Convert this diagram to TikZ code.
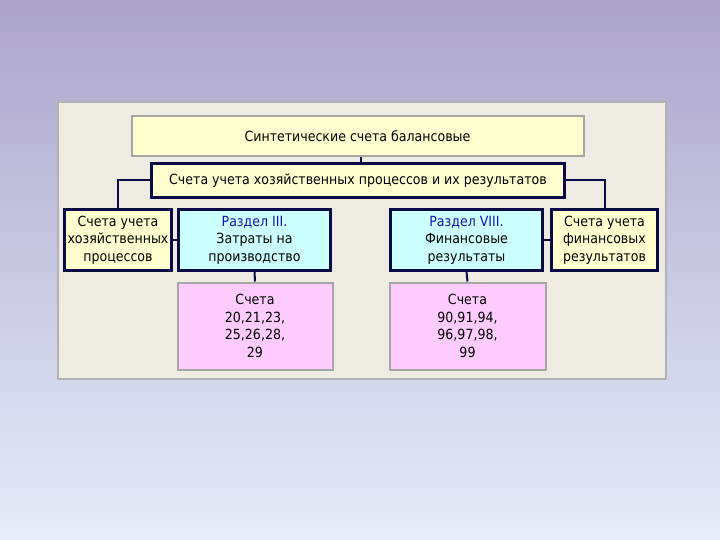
\documentclass[tikz,border=0pt]{standalone}
\usepackage{fontspec}
\setmainfont{DejaVu Sans Condensed}
\begin{document}
\begin{tikzpicture}[x=1pt,y=-1pt,
  txt/.style={align=center,inner sep=0pt,font=\fontsize{14}{17.5}\selectfont},
  yel/.style={txt,draw=navy,line width=2.2pt,fill=lyellow},
  cyanbox/.style={txt,draw=navy,line width=2.2pt,fill=lcyan},
  pinkbox/.style={txt,draw=gray!70,line width=2pt,fill=lpink},
  conn/.style={draw=navy,line width=2pt}]
\definecolor{navy}{RGB}{10,10,70}
\definecolor{lyellow}{RGB}{255,255,208}
\definecolor{lcyan}{RGB}{204,255,255}
\definecolor{lpink}{RGB}{255,204,255}
\definecolor{panel}{RGB}{237,235,226}
\definecolor{bgtop}{RGB}{172,164,202}
\definecolor{bgbot}{RGB}{230,236,250}
\definecolor{titleblue}{RGB}{20,20,170}
\useasboundingbox (0,0) rectangle (720,540);
\shade[top color=bgtop,bottom color=bgbot] (0,0) rectangle (720,540);
\draw[draw=gray!60,line width=2pt,fill=panel] (58,102) rectangle (666,379);
% top box
\node[txt,draw=gray!70,line width=2pt,fill=lyellow,minimum width=452pt,minimum height=40pt] (top) at (357.5,136.5) {Синтетические счета балансовые};
\node[yel,minimum width=413pt,minimum height=34pt] (mid) at (358,180.5) {Счета учета хозяйственных процессов и их результатов};
\node[yel,minimum width=107pt,minimum height=61pt] (lb) at (118,240) {Счета учета\\хозяйственных\\процессов};
\node[cyanbox,minimum width=152pt,minimum height=61pt] (c3) at (254.5,240) {{\color{titleblue}Раздел III.}\\Затраты на\\производство};
\node[cyanbox,minimum width=152pt,minimum height=61pt] (c8) at (466.5,240) {{\color{titleblue}Раздел VIII.}\\Финансовые\\результаты};
\node[yel,minimum width=106pt,minimum height=61pt] (rb) at (604.5,240) {Счета учета\\финансовых\\результатов};
\node[pinkbox,minimum width=155pt,minimum height=87pt] (p3) at (255,326) {Счета\\20,21,23,\\25,26,28,\\29};
\node[pinkbox,minimum width=156pt,minimum height=87pt] (p8) at (467.5,326) {Счета\\90,91,94,\\96,97,98,\\99};
% connectors
\draw[conn] (top.south -| mid.north) ++(3,0) -- ([xshift=3pt]mid.north);
\draw[conn] (mid.west) -| (lb.north);
\draw[conn] (mid.east) -| (rb.north);
\draw[conn] (lb.east) -- (c3.west);
\draw[conn] (c8.east) -- (rb.west);
\draw[conn] (c3.south) -- (p3.north);
\draw[conn] (c8.south) -- (p8.north);
\end{tikzpicture}
\end{document}
